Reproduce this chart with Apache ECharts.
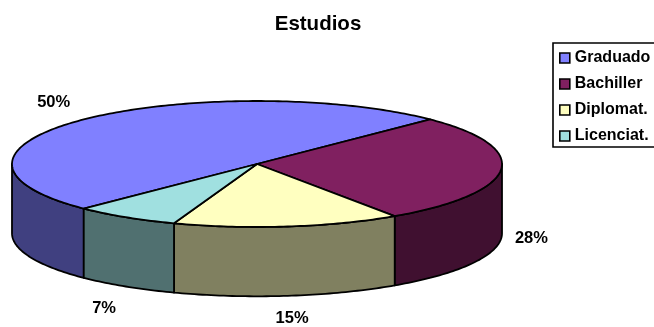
<!DOCTYPE html>
<html>
<head>
<meta charset="utf-8">
<style>html,body{margin:0;padding:0;background:#fff}#chart{width:654px;height:327px}</style>
<script src="https://cdn.jsdelivr.net/npm/echarts@6/dist/echarts.min.js"></script>
</head>
<body>
<div id="chart"></div>
<script>
const titleText = 'Estudios';
const categories = ['Graduado', 'Bachiller', 'Diplomat.', 'Licenciat.'];
const values = [50, 28, 15, 7];
const topColors = ['#8080FF', '#802060', '#FFFFC0', '#A0E0E0'];
const sideColors = ['#404080', '#401030', '#808060', '#507070'];
// Where each percentage sits, in the unit-circle space of the hidden axes.
const labelAnchors = [[-0.83, 0.97], [1.12, -1.175], [0.143, -2.445], [-0.624, -2.285]];

const FONT = '"Liberation Sans", Arial, sans-serif';
const FIRST_ANGLE = 225;  // degrees, slices run clockwise from here
const DEPTH = 1.1;        // thickness of the disc in y-axis units
const STROKE = { stroke: '#000', lineWidth: 1.8, lineJoin: 'round' };

const total = values.reduce((a, b) => a + b, 0);
const arcPoints = (api, from, to, drop) => {
  const pts = [];
  const steps = Math.max(2, Math.ceil(Math.abs(to - from)));
  for (let i = 0; i <= steps; i++) {
    const t = (from + (to - from) * i / steps) * Math.PI / 180;
    pts.push(api.coord([Math.cos(t), Math.sin(t) - drop]));
  }
  return pts;
};

// Only the part of a slice's rim on the near half of the disc is visible.
const nearRange = (start, end) => {
  for (const [lo, hi] of [[-180, 0], [180, 360]]) {
    const a = Math.min(start, hi), b = Math.max(end, lo);
    if (a > b) return [a, b];
  }
  return null;
};

let running = 0;
const series = categories.map((name, i) => {
  const start = FIRST_ANGLE - running / total * 360;
  running += values[i];
  const end = FIRST_ANGLE - running / total * 360;
  return {
    name,
    type: 'custom',
    coordinateSystem: 'cartesian2d',
    itemStyle: { color: topColors[i] },
    silent: true,
    data: [[0, 0, values[i]]],
    encode: { x: 0, y: 1 },
    renderItem: (params, api) => {
      const children = [];
      const near = nearRange(start, end);
      if (near) {
        const upper = arcPoints(api, near[0], near[1], 0);
        const lower = arcPoints(api, near[1], near[0], DEPTH);
        children.push({
          type: 'polygon', z2: 1,
          shape: { points: upper.concat(lower) },
          style: { fill: sideColors[i], ...STROKE }
        });
      }
      const wedge = arcPoints(api, start, end, 0);
      wedge.push(api.coord([0, 0]));
      children.push({
        type: 'polygon', z2: 2,
        shape: { points: wedge },
        style: { fill: topColors[i], ...STROKE }
      });
      const at = api.coord(labelAnchors[i]);
      children.push({
        type: 'text', z2: 3, x: at[0], y: at[1],
        style: {
          text: api.value(2) + '%', fill: '#000',
          font: 'bold 16.5px ' + FONT, align: 'center', verticalAlign: 'middle'
        }
      });
      return { type: 'group', children };
    }
  };
});

const chart = echarts.init(document.getElementById('chart'), null, { renderer: 'canvas' });
chart.setOption({
  animation: false,
  backgroundColor: '#fff',
  title: {
    text: titleText, left: 313, top: 9, textAlign: 'center',
    textStyle: { fontFamily: FONT, fontWeight: 'bold', fontSize: 20.5, color: '#000' }
  },
  legend: {
    orient: 'vertical', left: 553, top: 43,
    padding: [7, 14, 3, 6], itemGap: 10,
    itemWidth: 10, itemHeight: 10,
    borderColor: '#000', borderWidth: 1.6,
    icon: 'rect',
    selectedMode: false,
    itemStyle: { borderColor: '#000', borderWidth: 1.6 },
    textStyle: { fontFamily: FONT, fontWeight: 'bold', fontSize: 16, color: '#000' },
    data: categories
  },
  grid: { left: 12, top: 101, width: 490, height: 126 },
  xAxis: { type: 'value', min: -1, max: 1, show: false },
  yAxis: { type: 'value', min: -1, max: 1, show: false },
  series
});
</script>
</body>
</html>
